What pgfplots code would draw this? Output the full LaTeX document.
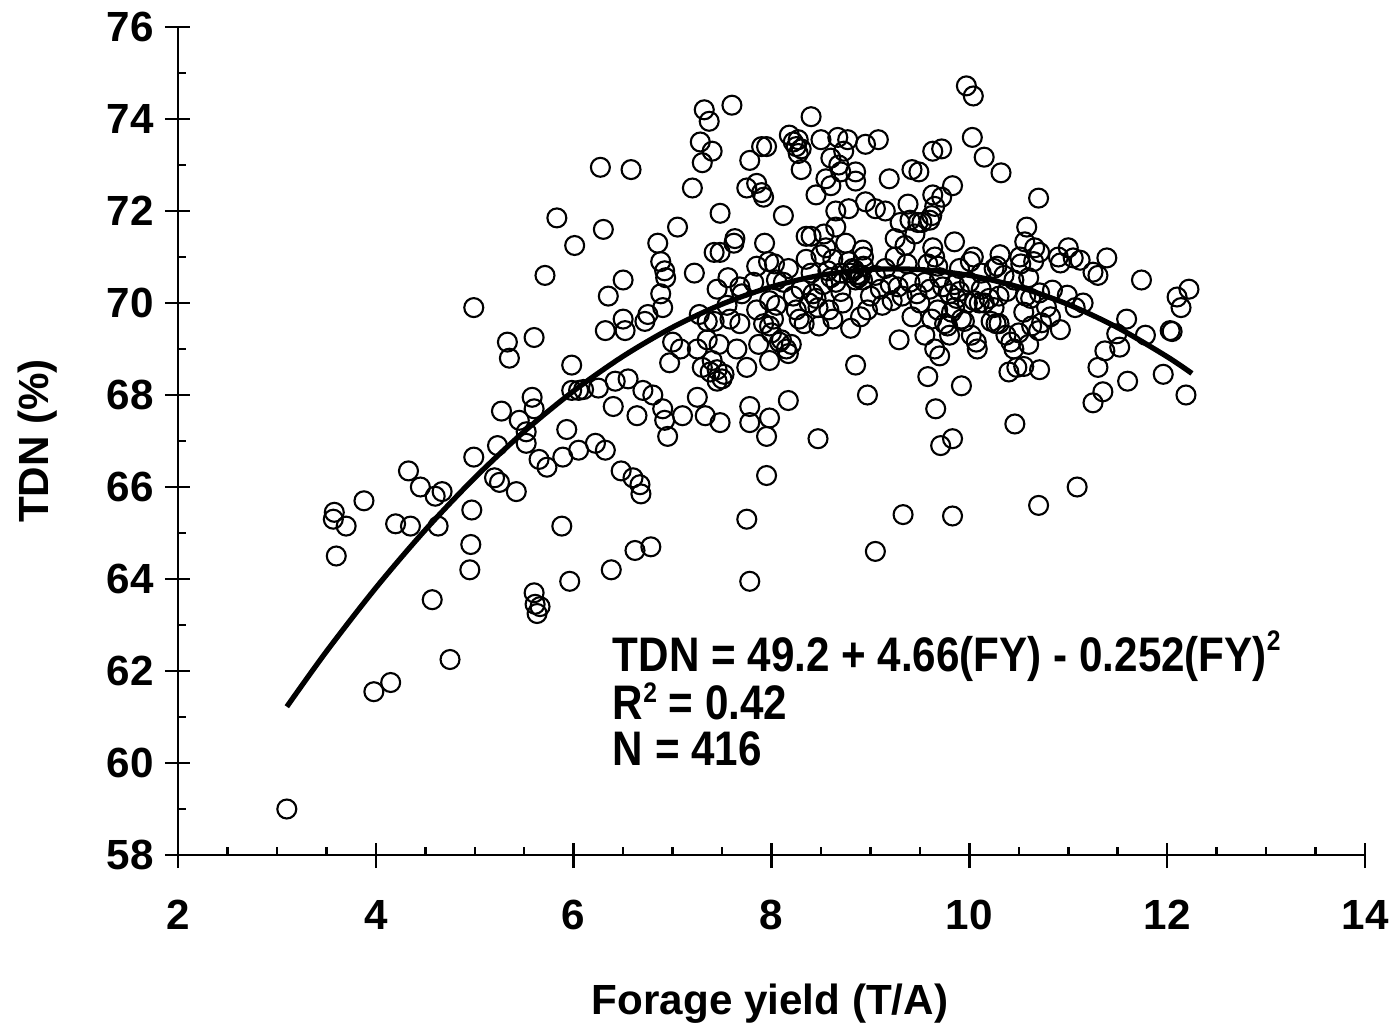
\documentclass[border=0pt]{standalone}
\usepackage{fontspec}
\setmainfont{Liberation Sans}
\usepackage{pgfplots}
\pgfplotsset{compat=1.18}
\usepackage{pgfplotstable}

% TDN vs forage yield, one row per sample
\pgfplotstableread{
x y
3.10 59.00
3.58 65.45
3.57 65.30
3.60 64.50
3.70 65.15
3.88 65.70
3.98 61.55
4.15 61.75
4.20 65.20
4.33 66.35
4.35 65.15
4.45 66.00
4.57 63.55
4.60 65.80
4.63 65.15
4.67 65.90
4.75 62.25
4.95 64.20
4.96 64.75
4.97 65.50
4.99 66.65
4.99 69.90
5.20 66.20
5.23 66.90
5.27 67.65
5.25 66.10
5.33 69.15
5.35 68.80
5.42 65.90
5.45 67.45
5.52 67.20
5.52 66.95
5.58 67.95
5.60 67.70
5.60 69.25
5.71 70.60
5.83 71.85
5.89 66.65
5.88 65.15
5.93 67.25
5.96 63.95
5.98 68.65
5.98 68.10
6.01 71.25
5.60 63.70
5.61 63.45
5.63 63.25
5.66 63.40
5.65 66.60
5.73 66.43
6.05 68.10
6.05 66.80
6.10 68.12
6.22 66.95
6.25 68.15
6.27 72.95
6.30 71.60
6.35 70.15
6.32 69.40
6.32 66.80
6.40 67.75
6.42 68.30
6.48 66.35
6.50 70.50
6.50 69.65
6.52 69.40
6.55 68.35
6.38 64.20
6.58 72.90
6.60 66.20
6.62 64.62
6.64 67.55
6.68 65.85
6.67 66.05
6.70 68.10
6.72 69.60
6.75 69.75
6.78 64.70
6.80 68.00
6.85 71.30
6.88 70.90
6.88 70.20
6.90 69.90
6.92 70.70
6.93 70.55
6.90 67.70
6.92 67.45
6.95 67.10
6.97 68.70
7.00 69.15
7.05 71.65
7.08 69.00
7.10 67.55
7.20 72.50
7.22 70.65
7.25 67.95
7.25 69.00
7.27 69.75
7.28 73.50
7.30 73.05
7.32 74.20
7.33 67.55
7.35 69.60
7.37 73.95
7.38 68.50
7.40 73.30
7.42 71.10
7.45 68.30
7.45 70.30
7.48 67.40
7.47 69.10
7.48 71.95
7.48 71.10
7.50 68.35
7.52 68.45
7.40 68.75
7.42 69.60
7.30 68.60
7.56 70.55
7.58 69.65
7.60 74.30
7.62 71.30
7.63 71.40
7.65 69.00
7.68 70.35
7.70 70.20
7.75 68.60
7.75 72.50
7.75 65.30
7.78 73.10
7.78 67.75
7.78 67.40
7.78 63.95
7.85 72.60
7.85 70.80
7.85 69.85
7.87 69.10
7.90 73.40
7.90 72.40
7.92 72.30
7.93 71.30
7.95 67.10
7.95 66.25
7.97 70.90
7.98 70.05
7.98 69.50
7.98 68.75
7.98 67.50
7.95 73.40
7.92 69.55
8.00 69.35
8.02 69.65
8.03 70.85
8.05 70.50
8.08 69.15
8.10 69.20
8.12 71.90
8.15 69.00
8.17 68.90
8.17 70.75
8.18 73.65
8.20 69.10
8.17 67.88
8.22 73.50
8.25 73.40
8.27 73.55
8.27 73.25
8.30 70.30
8.30 73.35
8.30 72.90
8.35 71.45
8.38 70.00
8.40 74.05
8.40 71.45
8.42 70.20
8.45 72.35
8.45 70.10
8.47 69.90
8.48 69.50
8.50 71.05
8.50 73.55
8.47 67.05
8.25 69.85
8.28 69.65
8.35 70.95
8.53 71.50
8.55 71.20
8.55 72.70
8.57 70.70
8.60 72.55
8.60 70.55
8.62 69.65
8.65 72.00
8.65 71.65
8.67 73.60
8.68 73.00
8.70 72.85
8.70 70.65
8.72 70.00
8.73 73.30
8.75 71.30
8.77 73.55
8.78 70.90
8.78 72.05
8.80 69.45
8.82 70.75
8.85 72.85
8.85 72.65
8.85 70.50
8.85 68.65
8.88 70.55
8.90 70.60
8.90 69.70
8.92 71.15
8.93 71.00
8.93 70.80
8.95 73.45
8.95 72.20
8.97 69.85
8.97 68.00
8.60 73.15
8.65 70.45
8.70 70.25
8.58 69.85
9.00 70.15
9.05 72.05
9.05 64.60
9.08 73.55
9.10 70.30
9.12 69.95
9.15 72.00
9.20 70.40
9.19 72.70
9.25 71.40
9.25 71.00
9.29 69.20
9.30 71.75
9.32 70.15
9.33 65.40
9.35 71.25
9.37 70.85
9.38 72.15
9.40 71.80
9.40 70.45
9.42 69.70
9.42 72.90
9.45 71.50
9.47 70.20
9.48 71.75
9.49 72.85
9.50 70.00
9.22 70.05
9.52 71.75
9.55 69.30
9.58 68.40
9.60 71.80
9.60 70.30
9.62 71.90
9.62 69.65
9.63 71.20
9.63 72.35
9.65 72.10
9.65 71.00
9.65 69.00
9.63 73.30
9.68 70.80
9.68 69.85
9.66 67.70
9.70 68.85
9.72 72.30
9.73 70.35
9.75 69.55
9.71 66.90
9.72 73.35
9.80 70.20
9.82 69.80
9.85 70.40
9.87 70.10
9.83 65.37
9.83 72.55
9.83 67.05
9.85 71.33
9.90 70.25
9.92 68.20
9.95 69.60
9.97 74.72
9.98 70.00
9.78 69.50
9.80 69.30
9.85 69.90
10.02 69.30
10.03 73.60
10.04 74.50
10.04 71.00
10.07 69.15
10.08 69.00
10.01 70.90
10.10 70.00
10.12 70.30
10.15 70.00
10.15 73.17
10.20 70.10
10.22 69.60
10.25 70.75
10.27 69.55
10.30 70.15
10.31 71.05
10.28 70.80
10.32 72.83
10.35 70.60
10.37 69.30
10.40 68.50
10.42 69.15
10.45 69.00
10.45 70.50
10.46 67.37
10.48 68.60
10.50 69.35
10.30 69.55
10.05 70.05
10.52 70.85
10.51 71.00
10.55 68.62
10.57 70.15
10.58 71.65
10.56 71.33
10.60 69.10
10.62 70.10
10.63 69.50
10.65 70.90
10.66 71.20
10.70 69.40
10.70 65.60
10.70 72.28
10.71 71.10
10.71 68.55
10.73 69.57
10.71 70.22
10.78 69.91
10.84 70.28
10.82 69.70
10.90 71.00
10.92 70.87
10.92 69.42
10.99 70.17
11.00 71.20
11.05 70.98
11.07 69.90
11.09 66.00
11.12 70.93
11.15 70.00
11.25 67.83
11.25 70.67
11.30 70.60
11.30 68.60
11.35 68.07
11.37 68.96
11.39 70.98
11.49 69.33
11.52 69.04
11.59 69.65
11.60 68.30
11.74 70.50
11.78 69.30
11.96 68.45
12.03 69.40
12.05 69.38
12.10 70.13
12.14 69.90
12.19 68.00
12.22 70.30
7.35 69.20
7.45 68.55
7.55 69.95
8.05 69.95
8.12 70.45
8.22 70.15
8.33 69.55
8.52 70.40
8.62 70.95
8.80 70.65
8.84 70.72
8.87 70.62
8.92 70.50
9.05 70.60
9.15 70.75
9.55 70.45
9.58 70.85
9.70 70.55
9.90 70.75
10.00 70.45
10.12 70.65
10.25 69.90
10.38 70.25
10.55 69.80
10.60 70.55
7.82 70.45
7.68 69.55
8.40 70.65
9.28 70.35
9.92 69.65
}\samples

% quadratic fit TDN = 49.2 + 4.66 FY - 0.252 FY^2, evaluated values
\pgfplotstableread{
x y
3.10 61.224
3.50 62.423
4.00 63.808
4.50 65.067
5.00 66.200
5.50 67.207
6.00 68.088
6.50 68.843
7.00 69.472
7.50 69.975
8.00 70.352
8.50 70.603
9.00 70.728
9.50 70.727
10.00 70.600
10.50 70.347
11.00 69.968
11.50 69.463
12.00 68.832
12.25 68.469
}\fit

\newcommand{\sq}[1]{\raisebox{#1}{\fontsize{7}{8}\selectfont 2}}
\newcommand{\tall}[1]{\scalebox{1}[1.15]{#1}}

\begin{document}
\begin{tikzpicture}
\begin{axis}[
    name=ax,
    scale only axis,
    width=11.87cm, height=8.28cm,
    xmin=2, xmax=14, ymin=58, ymax=76,
    axis x line*=bottom, axis y line*=left,
    axis line style={-, line width=0.7pt},
    xtick={2,4,...,14}, ytick={58,60,...,76},
    minor x tick num=3, minor y tick num=1,
    tick align=inside,
    major tick length=0.12cm, minor tick length=0.08cm,
    tick style={line width=0.7pt, black},
    extra x ticks={2,4,...,14}, extra x tick labels={},
    extra x tick style={tick align=outside, major tick length=0.13cm},
    extra y ticks={58,60,...,76}, extra y tick labels={},
    extra y tick style={tick align=outside, major tick length=0.13cm},
    ticklabel style={font=\bfseries\fontsize{12}{14}\selectfont},
    /pgf/number format/assume math mode=true,
    xticklabel style={yshift=-0.33cm},
    yticklabel style={xshift=-0.12cm},
    xlabel={Forage yield (T/A)},
    ylabel={TDN (\%)},
    label style={font=\bfseries\fontsize{12}{14}\selectfont},
    xlabel style={at={(axis description cs:0.4987,-0.179)}, anchor=center},
    ylabel style={at={(axis description cs:-0.118,0.5)}, anchor=center},
    clip=false,
]
\addplot[only marks, mark=o, mark size=2.7pt, mark options={line width=0.6pt, black}] table {\samples};
\addplot[black, line width=1.5pt, smooth] table {\fit};
\begin{scope}[every node/.style={anchor=base west, inner sep=0, font=\bfseries\fontsize{12}{14}\selectfont}]
\node at (axis cs:6.39,61.98) {\tall{TDN = 49.2 + 4.66(FY) - 0.252(FY)\sq{0.19cm}}};
\node at (axis cs:6.39,60.95) {\tall{R\sq{0.15cm} = 0.42}};
\node at (axis cs:6.39,59.95) {\tall{N = 416}};
\end{scope}
\end{axis}
\pgfresetboundingbox
\path ([shift={(-1.78cm,-1.70cm)}]ax.south west) rectangle ([shift={(0.25cm,0.27cm)}]ax.north east);
\end{tikzpicture}
\end{document}
